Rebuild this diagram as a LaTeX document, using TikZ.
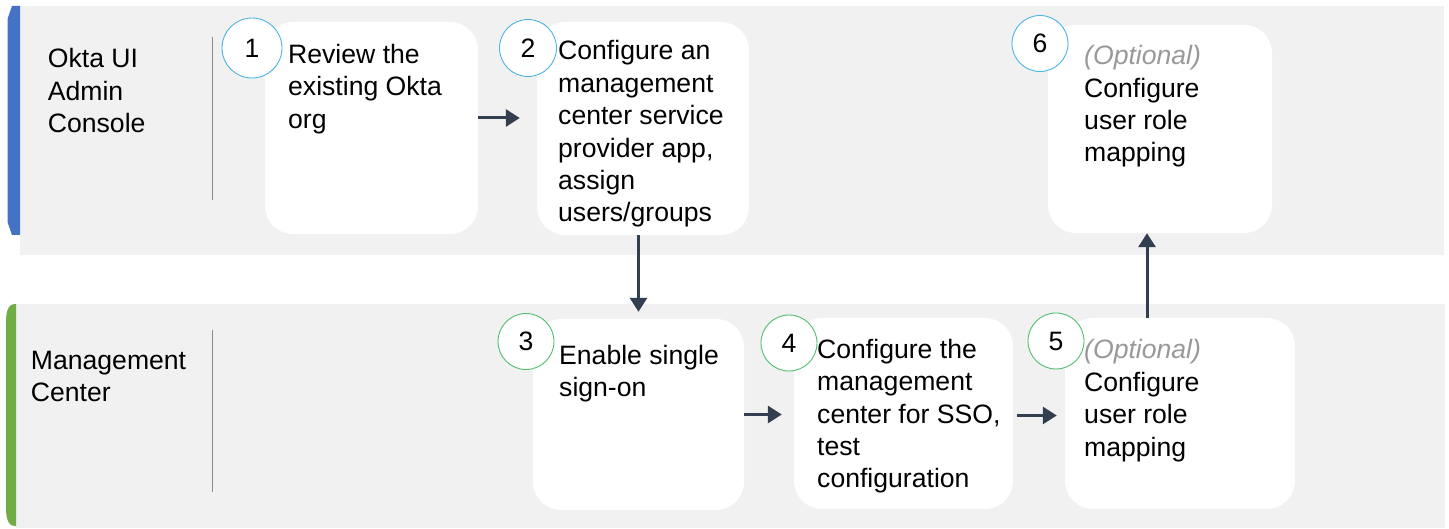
\documentclass[tikz,border=0pt]{standalone}
\usepackage{fontspec}
\setmainfont{Liberation Sans}
\usetikzlibrary{arrows.meta}
\definecolor{lanegray}{HTML}{F1F1F1}
\definecolor{laneblue}{HTML}{4472C4}
\definecolor{lanegreen}{HTML}{70AD47}
\definecolor{circblue}{HTML}{4DB3E6}
\definecolor{circgreen}{HTML}{4FBF6E}
\definecolor{arrowc}{HTML}{333F50}
\definecolor{optgray}{HTML}{999999}
\definecolor{divgray}{HTML}{8C8C8C}
\newcommand{\mylines}[1]{\vtop{\baselineskip=32.4pt\lineskiplimit=-100pt\halign{##\hfil\cr#1\crcr}}}
\newcommand{\opt}{{\color{optgray}\itshape (Optional)}}
\begin{document}
\begin{tikzpicture}[x=1pt,y=-1pt,
  stepbox/.style={fill=white, draw=none, rounded corners=28pt, inner sep=0pt},
  txt/.style={anchor=base west, inner sep=0pt, font=\fontsize{26.6}{32.4}\selectfont},
  numblue/.style={circle, draw=circblue, line width=0.9pt, fill=white, inner sep=0pt, font=\fontsize{26.6}{32.4}\selectfont},
  numgreen/.style={circle, draw=circgreen, line width=0.9pt, fill=white, inner sep=0pt, minimum size=56pt, font=\fontsize{26.6}{32.4}\selectfont},
  arr/.style={draw=arrowc, line width=3pt, -{Triangle[length=14pt,width=17pt]}},
  divider/.style={draw=divgray, line width=1.2pt}]
\useasboundingbox (0,0) rectangle (1449,529);
\fill[white] (0,0) rectangle (1449,529);
% lanes
\fill[lanegray] (20,6) rectangle (1444,255);
\fill[laneblue] (20,6) -- (12,6) -- (7.5,19) -- (7.5,222) -- (12,235) -- (20,235) -- cycle;
\fill[lanegray] (16,304) rectangle (1445,528);
\fill[lanegreen] (16,304) -- (15,304) to[out=180,in=90] (6,322) -- (6,508) to[out=-90,in=180] (15,526) -- (16,526) -- cycle;
\draw[divider] (212.5,37) -- (212.5,200);
\draw[divider] (212.5,330) -- (212.5,492);
% lane labels
\node[txt] (l1) at (47.7,67.7) {\mylines{Okta UI\cr Admin\cr Console}};
\node[txt] (l2) at (30.7,369.3) {\mylines{Management\cr Center}};
% boxes
\node[stepbox, minimum width=213pt, minimum height=212pt] (b1) at (371.5,128) {};
\node[stepbox, minimum width=212pt, minimum height=213pt] (b2) at (643,128.5) {};
\node[stepbox, minimum width=224pt, minimum height=208pt] (b6) at (1160,129) {};
\node[stepbox, minimum width=211pt, minimum height=191pt] (b3) at (638.5,414.5) {};
\node[stepbox, minimum width=219pt, minimum height=191pt] (b4) at (903.5,413.5) {};
\node[stepbox, minimum width=230pt, minimum height=191pt] (b5) at (1180,413.5) {};
% box texts
\node[txt] (t1) at (288,63.3) {\mylines{Review the\cr existing Okta\cr org}};
\node[txt] (t2) at (558,60) {\mylines{Configure an\cr management\cr center service\cr provider app,\cr assign\cr users/groups}};
\node[txt] (t6) at (1084,64.8) {\mylines{\opt\cr Configure\cr user role\cr mapping}};
\node[txt] (t3) at (559,364) {\mylines{Enable single\cr sign-on}};
\node[txt] (t4) at (817,358.3) {\mylines{Configure the\cr management\cr center for SSO,\cr test\cr configuration}};
\node[txt] (t5) at (1084,359) {\mylines{\opt\cr Configure\cr user role\cr mapping}};
% number circles
\node[numblue, minimum size=60pt] (n1) at (252,48) {1};
\node[numblue, minimum size=57pt] (n2) at (528,48) {2};
\node[numblue, minimum size=56pt] (n6) at (1040,43.5) {6};
\node[numgreen] (n3) at (526,341.5) {3};
\node[numgreen] (n4) at (789,343) {4};
\node[numgreen] (n5) at (1056,341) {5};
% connectors
\draw[arr, shorten >=17pt] ([yshift=10pt]b1.east) -- ([yshift=10pt]b1.east -| b2.west);
\draw[arr, shorten >=7pt] (b3.north |- b2.south) -- (b3.north);
\draw[arr, shorten >=12pt] (b3.east) -- (b3.east -| b4.west);
\draw[arr, shorten <=4pt, shorten >=8pt] ([yshift=-2pt]b4.east) -- ([yshift=-2pt]b4.east -| b5.west);
\draw[arr] ([xshift=-13pt]b6.south |- b5.north) -- ([xshift=-13pt]b6.south);
\end{tikzpicture}
\end{document}
